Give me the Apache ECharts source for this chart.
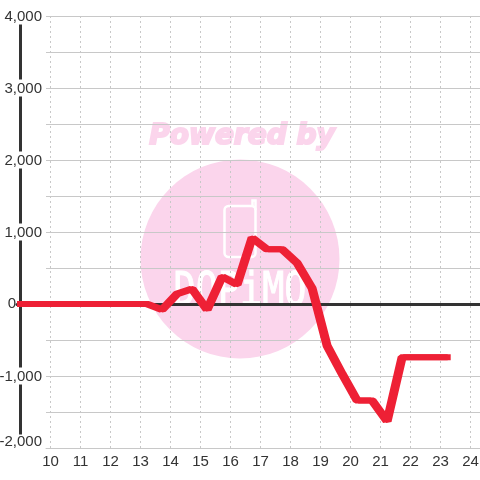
<!DOCTYPE html>
<html>
<head>
<meta charset="utf-8">
<style>html,body{margin:0;padding:0;background:#fff}#c{width:480px;height:480px}</style>
<script src="https://cdn.jsdelivr.net/npm/echarts@6/dist/echarts.min.js"></script>
</head>
<body>
<div id="c"></div>
<script>
// hours and values
const hours = [8.933, 13.22, 13.72, 14.22, 14.72, 15.22, 15.72, 16.22, 16.72, 17.22, 17.72, 18.22, 18.72, 19.22, 19.72, 20.22, 20.72, 21.22, 21.72, 22.22, 22.72, 23.29];
const values = [0, 0, -80, 140, 210, -80, 380, 270, 920, 760, 760, 570, 220, -580, -970, -1340, -1340, -1630, -740, -740, -740, -740];
const xTicks = [10, 11, 12, 13, 14, 15, 16, 17, 18, 19, 20, 21, 22, 23, 24];
const yLabels = [-2000, -1000, 1000, 2000, 3000, 4000];
const yZero = [0];

const INK = '#333333', GRID = '#c8c8c8', RED = '#ee2035', PINK = '#fbd5ec';
const FONT = 'Liberation Sans, Arial, sans-serif';
const X_MIN = 9.85, X_MAX = 24.317;
// the pen is wider across than it is tall: same line twice, 3px apart
const PLOT_LEFT = 17;
const penA = { min: 10 - 32 / 30, max: 10 + 431 / 30 };
const penB = { min: 10 - 35 / 30, max: 10 + 428 / 30 };

const hiddenX = (r, gridIndex) => ({
  type: 'value', gridIndex, min: r.min, max: r.max, position: 'top',
  axisLine: { show: false }, axisTick: { show: false }, axisLabel: { show: false }, splitLine: { show: false },
});
const redLine = (axisIndex) => ({
  type: 'line', xAxisIndex: axisIndex, yAxisIndex: 1, clip: false, symbol: 'none', z: 5,
  data: hours.map((h, i) => [h, values[i]]),
  lineStyle: { color: RED, width: 6, join: 'bevel', cap: 'butt' },
});

const chart = echarts.init(document.getElementById('c'));
chart.setOption({
  animation: false,
  backgroundColor: '#fff',
  grid: [
    { left: 46, right: 0, top: 16, bottom: 32, outerBoundsMode: 'none' },
    { left: PLOT_LEFT, right: 0, top: 16, bottom: 32, outerBoundsMode: 'none' },
  ],
  graphic: [
    { type: 'circle', z: -10, silent: true, shape: { cx: 240, cy: 259, r: 99.5 }, style: { fill: PINK } },
    { type: 'text', z: -10, silent: true, x: 242, y: 137, style: { text: 'Powered by', fill: PINK, stroke: PINK, lineWidth: 2, font: 'italic bold 28px "DejaVu Sans"', align: 'center', verticalAlign: 'middle' } },
    { type: 'rect', z: -9, silent: true, shape: { x: 224.5, y: 206, width: 31, height: 51, r: 4 }, style: { fill: 'none', stroke: '#fff', lineWidth: 2.5 } },
    { type: 'polyline', z: -9, silent: true, shape: { points: [[252.5, 206], [252.5, 200.5], [255.5, 200.5], [255.5, 210]] }, style: { fill: 'none', stroke: '#fff', lineWidth: 2.5 } },
    { type: 'text', z: -9, silent: true, x: 240, y: 293, scaleX: 0.8, style: { text: 'DOPiMO', fill: '#fff', stroke: '#fff', lineWidth: 1, font: '46px "DejaVu Sans Mono"', align: 'center', verticalAlign: 'middle' } },
  ],
  xAxis: [
    {
      type: 'value', gridIndex: 0, min: X_MIN, max: X_MAX, position: 'bottom',
      axisLine: { onZero: false, lineStyle: { color: GRID, width: 1 } },
      axisTick: { show: false, customValues: xTicks },
      axisLabel: { customValues: xTicks, color: INK, fontFamily: FONT, fontSize: 15, margin: 6, showMinLabel: true, showMaxLabel: true },
      splitLine: { show: true, lineStyle: { color: GRID, type: [2, 3], width: 1 } },
    },
    {
      ...hiddenX(penA, 1),
      axisLine: { show: true, onZero: true, lineStyle: { color: INK, width: 3 } },
    },
    hiddenX(penB, 1),
  ],
  yAxis: [
    {
      type: 'value', gridIndex: 0, min: -2000, max: 4000, interval: 500, offset: 26,
      axisLine: { show: true, lineStyle: { color: INK, width: 3 } },
      axisTick: { show: false },
      axisLabel: {
        customValues: yLabels, margin: -22,
        formatter: (v) => (v === -2000 ? '{b|-2,000}' : '{n|' + Number(v).toLocaleString('en-US') + '}'),
        rich: {
          n: { color: INK, fontFamily: FONT, fontSize: 15, backgroundColor: '#fff', padding: [2, 0, 0, 0] },
          b: { color: INK, fontFamily: FONT, fontSize: 15, backgroundColor: '#fff', padding: [0, 0, 12, 0] },
        },
      },
      splitLine: { show: true, lineStyle: { color: GRID, width: 1 } },
    },
    {
      type: 'value', gridIndex: 1, min: -2000, max: 4000, interval: 500,
      axisLine: { show: false }, axisTick: { show: false }, splitLine: { show: false },
      axisLabel: { customValues: yZero, color: INK, fontFamily: FONT, fontSize: 15, margin: 1, padding: [2, 0, 0, 0] },
    },
  ],
  series: [redLine(1), redLine(2)],
});
</script>
</body>
</html>
